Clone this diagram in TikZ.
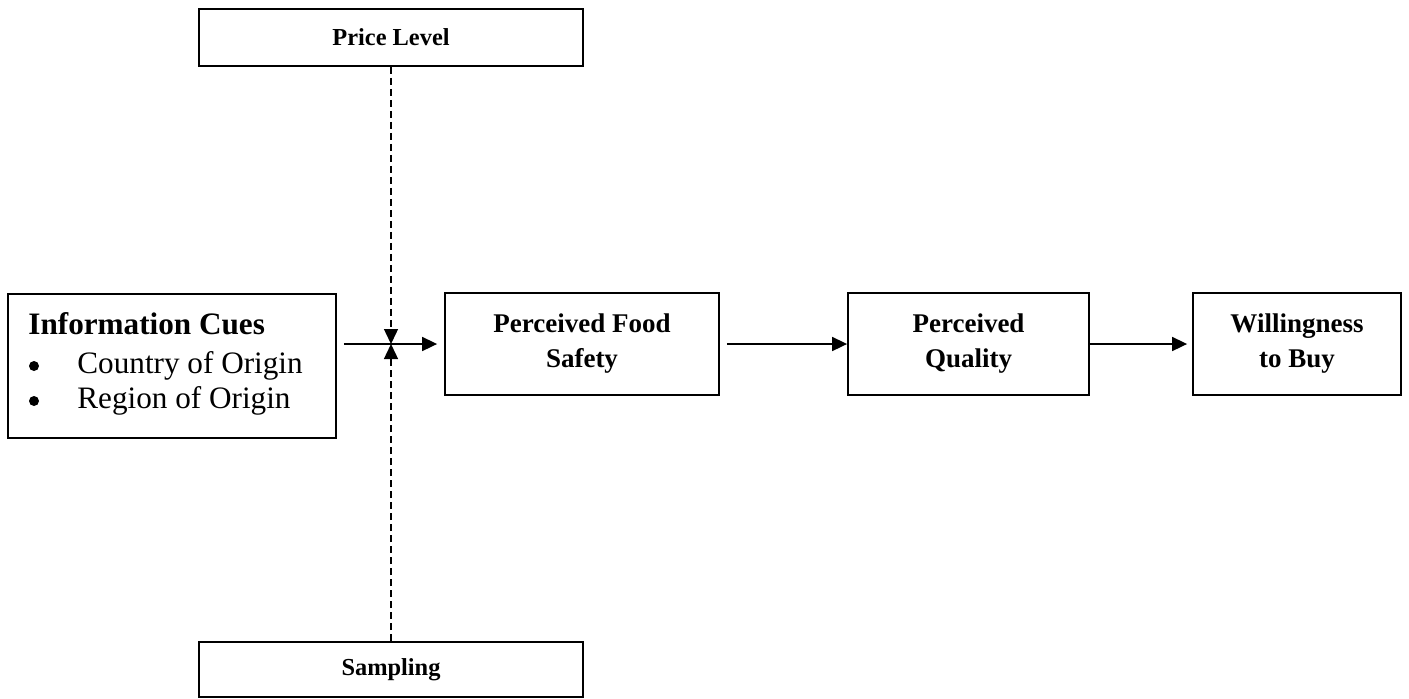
\documentclass[tikz,border=0pt]{standalone}
\usepackage{fontspec}
\setmainfont{Liberation Serif}
\usetikzlibrary{arrows.meta, positioning}

\begin{document}
\begin{tikzpicture}[x=0.5pt, y=-0.5pt,
    box/.style={draw, line width=0.9pt, inner sep=0pt, align=center},
    flowlabel/.style={font=\fontsize{13.5}{17.5}\selectfont\bfseries},
    sidelabel/.style={font=\fontsize{12.2}{14}\selectfont\bfseries},
    cuelabel/.style={font=\fontsize{15.6}{19}\selectfont, inner sep=0pt},
    cuedot/.style={circle, fill, inner sep=0pt, minimum size=5pt},
    link/.style={-{Triangle[length=7.5pt, width=7pt]}, line width=0.85pt},
    modlink/.style={link, line width=0.7pt, dash pattern=on 3.5pt off 2pt}]

  \useasboundingbox (0,0) rectangle (1409,698);

  % moderators
  \node[box, sidelabel, minimum width=192pt, minimum height=28.5pt] (price) at (391,37.5) {Price Level};
  \node[box, sidelabel, minimum width=192pt, minimum height=27.5pt] (sampling) at (391,669.5) {Sampling};

  % information cues
  \node[box, anchor=north west, minimum width=164pt, minimum height=72pt] (cues) at (7,293) {};
  \node[cuelabel, font=\fontsize{15.6}{19}\selectfont\bfseries, anchor=base west] (cuetitle) at (28,334) {Information Cues};
  \foreach \txt [count=\i] in {Country of Origin, Region of Origin} {
    \node[cuedot] (dot\i) at (34,331+35*\i) {};
    \node[cuelabel, anchor=base west] (cue\i) at (77,338+35*\i) {\txt};
  }

  % main chain
  \node[box, flowlabel, minimum width=137pt, minimum height=51pt] (safety) at (582,344) {Perceived Food\\Safety};
  \node[box, flowlabel, minimum width=120.5pt, minimum height=51pt] (quality) at (968.5,344) {Perceived\\Quality};
  \node[box, flowlabel, minimum width=104pt, minimum height=51pt] (buy) at (1297,344) {Willingness\\to Buy};

  \coordinate (meet) at (price.south |- safety.west);

  \draw[link, shorten <=3.5pt, shorten >=3.5pt] (cues.east |- meet) -- (safety.west);
  \draw[link, shorten <=3.5pt] (safety) -- (quality);
  \draw[link, shorten >=2.5pt] (quality) -- (buy);
  \draw[modlink] (price) -- (meet);
  \draw[modlink] (sampling) -- (meet);
\end{tikzpicture}
\end{document}
